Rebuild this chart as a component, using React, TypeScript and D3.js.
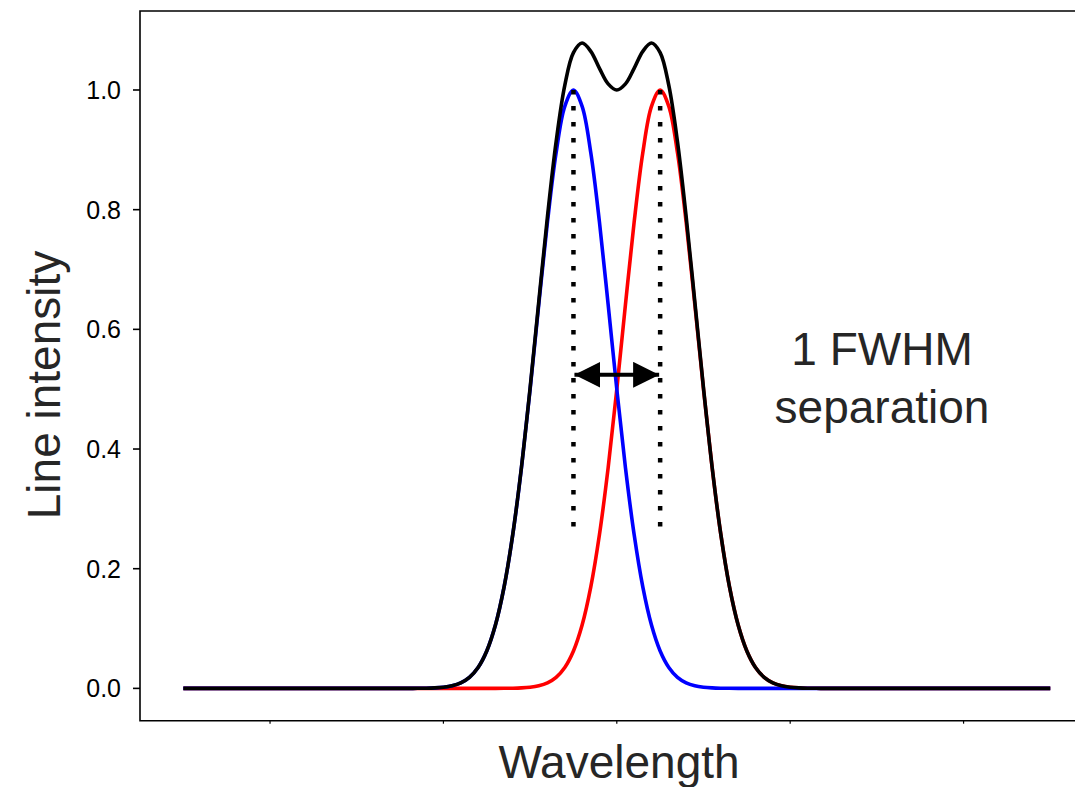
import * as d3 from 'd3';
import React, { useEffect, useRef } from 'react';

// wavelength grid (arbitrary units, 0 = midpoint between the two lines)
const wavelength = [
  -2.5,
  -1.25, -1.2, -1.15, -1.1, -1.05, -1.0, -0.95, -0.9, -0.85, -0.8,
  -0.75, -0.7, -0.65, -0.6, -0.55, -0.5, -0.45, -0.4, -0.35, -0.3,
  -0.25, -0.2, -0.15, -0.1, -0.05, 0, 0.05, 0.1, 0.15, 0.2,
  0.25, 0.3, 0.35, 0.4, 0.45, 0.5, 0.55, 0.6, 0.65, 0.7,
  0.75, 0.8, 0.85, 0.9, 0.95, 1.0, 1.05, 1.1, 1.15, 1.2, 1.25,
  2.5,
];

// blue line profile
const blueLine = [
  0,
  0.00002, 0.00005, 0.00013, 0.00033, 0.00083, 0.00195, 0.00436, 0.00923, 0.01845, 0.03491,
  0.0625, 0.10584, 0.16956, 0.25703, 0.36856, 0.5, 0.64171, 0.77916, 0.89502, 0.97266,
  1, 0.97266, 0.89502, 0.77916, 0.64171, 0.5, 0.36856, 0.25703, 0.16956, 0.10584,
  0.0625, 0.03491, 0.01845, 0.00923, 0.00436, 0.00195, 0.00083, 0.00033, 0.00013, 0.00005,
  0.00002, 0, 0, 0, 0, 0, 0, 0, 0, 0, 0,
  0,
];

// red line profile
const redLine = [
  0,
  0, 0, 0, 0, 0, 0, 0, 0, 0, 0,
  0.00002, 0.00005, 0.00013, 0.00033, 0.00083, 0.00195, 0.00436, 0.00923, 0.01845, 0.03491,
  0.0625, 0.10584, 0.16956, 0.25703, 0.36856, 0.5, 0.64171, 0.77916, 0.89502, 0.97266,
  1, 0.97266, 0.89502, 0.77916, 0.64171, 0.5, 0.36856, 0.25703, 0.16956, 0.10584,
  0.0625, 0.03491, 0.01845, 0.00923, 0.00436, 0.00195, 0.00083, 0.00033, 0.00013, 0.00005, 0.00002,
  0,
];

// blended profile
const totalLine = [
  0,
  0.00002, 0.00005, 0.00013, 0.00033, 0.00083, 0.00195, 0.00436, 0.00923, 0.01845, 0.03491,
  0.06252, 0.10589, 0.16969, 0.25736, 0.36939, 0.50195, 0.64607, 0.78839, 0.91347, 1.00757,
  1.0625, 1.0785, 1.06458, 1.03619, 1.01027, 1.0, 1.01027, 1.03619, 1.06458, 1.0785,
  1.0625, 1.00757, 0.91347, 0.78839, 0.64607, 0.50195, 0.36939, 0.25736, 0.16969, 0.10589,
  0.06252, 0.03491, 0.01845, 0.00923, 0.00436, 0.00195, 0.00083, 0.00033, 0.00013, 0.00005, 0.00002,
  0,
];

const yTicks = [0, 0.2, 0.4, 0.6, 0.8, 1.0];
const xTicks = [-2, -1, 0, 1, 2];
const peakCenters = [-0.25, 0.25];
const markerBottom = 0.268;
const arrowLevel = 0.524;
const annotation = ['1 FWHM', 'separation'];

const font = 'Helvetica, Arial, "Liberation Sans", sans-serif';

function Chart() {
  const ref = useRef<SVGSVGElement>(null);

  useEffect(() => {
    const svg = d3.select(ref.current);
    svg.selectAll('*').remove();

    const x = d3.scaleLinear().domain([-2.75, 2.75]).range([140, 1093.6]);
    const y = d3.scaleLinear().domain([-0.054, 1.132]).range([720.7, 11]);

    const defs = svg.append('defs');
    ['start', 'end'].forEach(function(k) {
      defs.append('marker')
        .attr('id', 'head-' + k)
        .attr('viewBox', '0 0 26 26')
        .attr('refX', k === 'end' ? 26 : 0)
        .attr('refY', 13)
        .attr('markerWidth', 26)
        .attr('markerHeight', 26)
        .attr('markerUnits', 'userSpaceOnUse')
        .attr('orient', 'auto')
        .append('path')
        .attr('d', k === 'end' ? 'M0,0 L26,13 L0,26 Z' : 'M26,0 L0,13 L26,26 Z')
        .attr('fill', '#000');
    });

    const rows = wavelength.map(function(w, i) {
      return {w: w, blue: blueLine[i], red: redLine[i], total: totalLine[i]};
    });

    const series: [keyof typeof rows[0], string][] = [
      ['red', '#ff0000'],
      ['blue', '#0000ff'],
      ['total', '#000000'],
    ];
    series.forEach(function(s) {
      const line = d3.line<typeof rows[0]>()
        .x(function(d) { return x(d.w); })
        .y(function(d) { return y(d[s[0]] as number); })
        .curve(d3.curveCatmullRom);
      svg.append('path')
        .datum(rows)
        .attr('d', line)
        .attr('fill', 'none')
        .attr('stroke', s[1])
        .attr('stroke-width', 3.6);
    });

    // dotted markers at line centres
    svg.selectAll('.marker')
      .data(peakCenters)
      .enter()
      .append('line')
      .attr('x1', function(d) { return x(d); })
      .attr('x2', function(d) { return x(d); })
      .attr('y1', y(1))
      .attr('y2', y(markerBottom))
      .attr('stroke', '#000')
      .attr('stroke-width', 4.5)
      .attr('stroke-dasharray', '4.5 11.5');

    svg.append('line')
      .attr('x1', x(peakCenters[0]) + 1)
      .attr('x2', x(peakCenters[1]) - 1)
      .attr('y1', y(arrowLevel))
      .attr('y2', y(arrowLevel))
      .attr('stroke', '#000')
      .attr('stroke-width', 4)
      .attr('marker-start', 'url(#head-start)')
      .attr('marker-end', 'url(#head-end)');

    // spines
    svg.append('path')
      .attr('d', 'M1075,' + y(1.132) + ' H' + x(-2.75) + ' V' + y(-0.054) + ' H1075')
      .attr('fill', 'none')
      .attr('stroke', '#000')
      .attr('stroke-width', 1.6);

    const gy = svg.append('g');
    yTicks.forEach(function(t) {
      gy.append('line')
        .attr('x1', 133).attr('x2', 140)
        .attr('y1', y(t)).attr('y2', y(t))
        .attr('stroke', '#000').attr('stroke-width', 1.6);
      gy.append('text')
        .attr('x', 121)
        .attr('y', y(t))
        .attr('dy', '0.36em')
        .attr('text-anchor', 'end')
        .attr('font-family', font)
        .attr('font-size', 25)
        .attr('fill', '#000')
        .text(d3.format('.1f')(t));
    });

    xTicks.forEach(function(t) {
      svg.append('line')
        .attr('x1', x(t)).attr('x2', x(t))
        .attr('y1', y(-0.054)).attr('y2', y(-0.054) + 3)
        .attr('stroke', '#000').attr('stroke-width', 1.2);
    });

    svg.append('text')
      .attr('x', 619)
      .attr('y', 778)
      .attr('text-anchor', 'middle')
      .attr('font-family', font)
      .attr('font-size', 46)
      .attr('fill', '#262626')
      .text('Wavelength');

    svg.append('text')
      .attr('transform', 'translate(60,385) rotate(-90)')
      .attr('text-anchor', 'middle')
      .attr('font-family', font)
      .attr('font-size', 46)
      .attr('fill', '#262626')
      .text('Line intensity');

    annotation.forEach(function(s, i) {
      svg.append('text')
        .attr('x', 882)
        .attr('y', 365 + i * 58)
        .attr('text-anchor', 'middle')
        .attr('font-family', font)
        .attr('font-size', 46)
        .attr('fill', '#262626')
        .text(s);
    });
  }, []);

  return (
    <svg
      ref={ref}
      width={1075}
      height={787}
      style={{position: 'absolute', left: 0, top: 0, background: '#fff'}}
    />
  );
}

export default function App() {
  return <Chart />;
}
